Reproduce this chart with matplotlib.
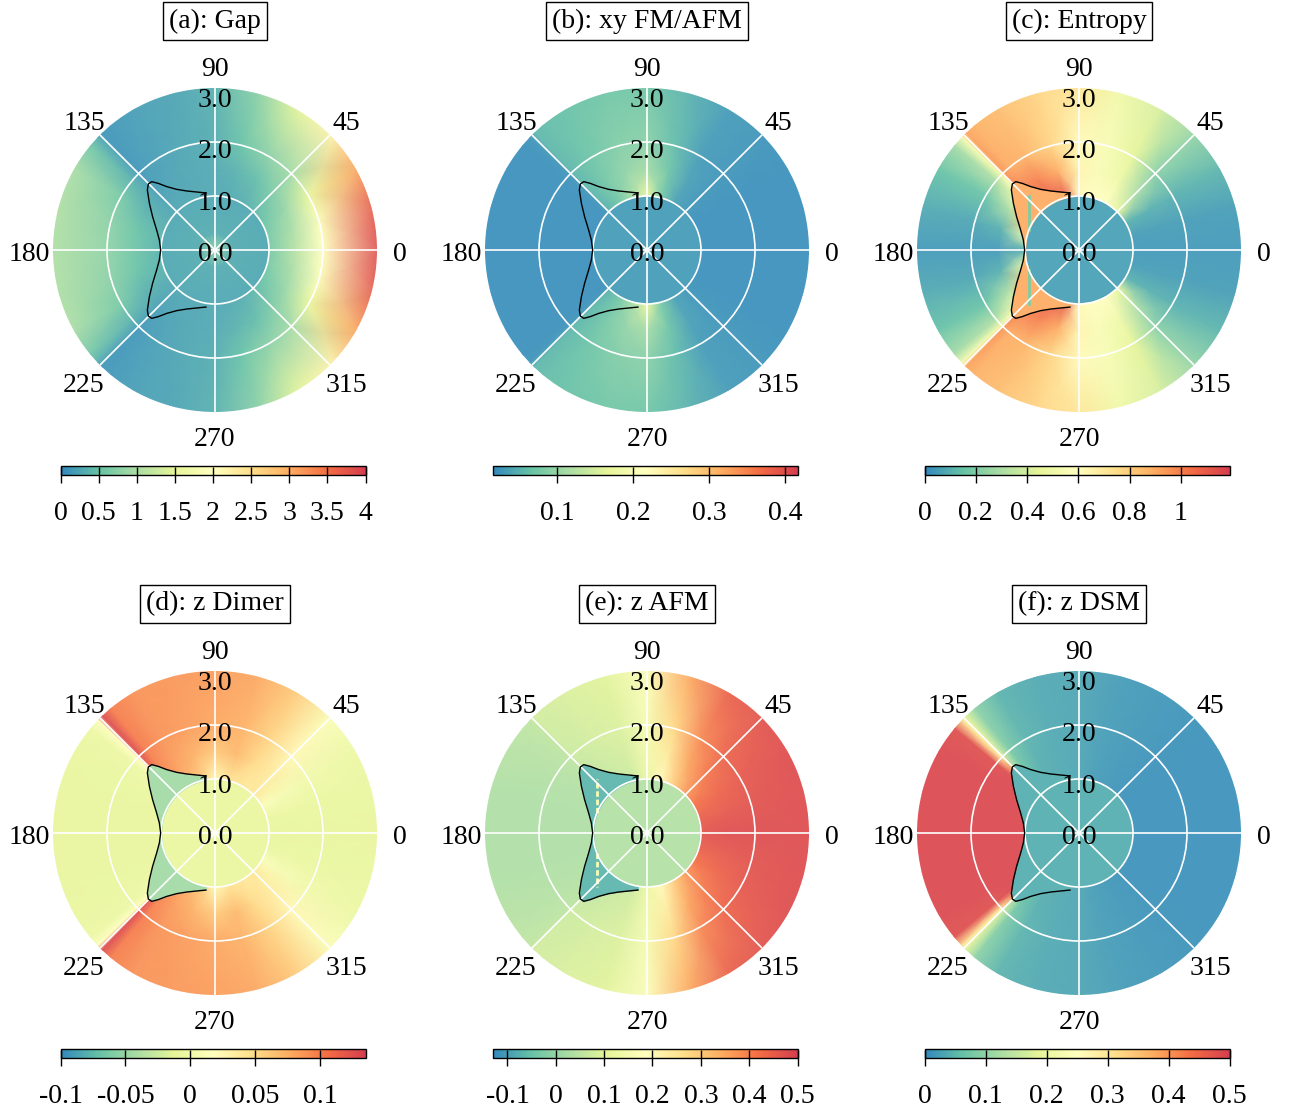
import numpy as np
import matplotlib

matplotlib.use("Agg")
import matplotlib.pyplot as plt  # noqa: E402
from matplotlib.cm import ScalarMappable  # noqa: E402
from matplotlib.colors import LinearSegmentedColormap, Normalize, to_rgb  # noqa: E402
from matplotlib.transforms import ScaledTranslation  # noqa: E402

plt.rcParams["font.family"] = ["Liberation Serif", "DejaVu Serif"]
plt.rcParams["axes.unicode_minus"] = False
FS = 20

# ---- data (upper half; panels are mirror-symmetric about 0/180) ----
THETA_UP = [0, 15, 30, 45, 60, 75, 90, 105, 120, 130, 134, 136, 140, 150, 165, 180]
R_INNER = [0.0, 0.3, 0.99]
R_OUTER = [1.01, 1.5, 2.0, 3.1]

# rows: r = 1.01, 1.5, 2.0, 3.1 ; columns: THETA_UP
gap_outer = [
    [0.6, 0.6, 0.5, 0.4, 0.3, 0.28, 0.25, 0.25, 0.25, 0.25, 0.25, 0.25, 0.25, 0.3, 0.35, 0.35],
    [1.1, 1.0, 0.85, 0.65, 0.45, 0.35, 0.28, 0.25, 0.22, 0.2, 0.18, 0.2, 0.25, 0.35, 0.5, 0.55],
    [2.0, 1.9, 1.55, 0.95, 0.75, 0.5, 0.3, 0.25, 0.2, 0.15, 0.12, 0.2, 0.35, 0.6, 0.75, 0.8],
    [3.9, 3.75, 3.1, 2.2, 1.5, 0.75, 0.35, 0.22, 0.18, 0.12, 0.1, 0.3, 0.6, 1.0, 1.05, 1.05],
]
gap_inner = [0.8, 0.3, 0.25]

xy_outer = [
    [0.02, 0.02, 0.02, 0.025, 0.035, 0.075, 0.17, 0.11, 0.07, 0.055, 0.05, 0.025, 0.02, 0.02, 0.02, 0.02],
    [0.02, 0.02, 0.02, 0.025, 0.035, 0.07, 0.11, 0.095, 0.075, 0.06, 0.055, 0.025, 0.02, 0.02, 0.02, 0.02],
    [0.02, 0.02, 0.02, 0.025, 0.03, 0.06, 0.09, 0.085, 0.07, 0.06, 0.055, 0.025, 0.02, 0.02, 0.02, 0.02],
    [0.02, 0.02, 0.02, 0.025, 0.03, 0.05, 0.07, 0.07, 0.065, 0.06, 0.055, 0.025, 0.02, 0.02, 0.02, 0.02],
]
xy_inner = [0.035, 0.03, 0.03]

ent_outer = [
    [0.04, 0.05, 0.1, 0.45, 0.6, 0.6, 0.62, 1.1, 1.1, 1.05, 1.05, 0.9, 0.9, 0.9, 0.5, 0.1],
    [0.04, 0.05, 0.1, 0.3, 0.5, 0.55, 0.65, 0.9, 1.0, 1.0, 1.0, 0.6, 0.5, 0.3, 0.1, 0.04],
    [0.04, 0.05, 0.1, 0.22, 0.45, 0.55, 0.62, 0.78, 0.88, 0.9, 0.95, 0.5, 0.3, 0.15, 0.07, 0.04],
    [0.04, 0.05, 0.12, 0.25, 0.4, 0.5, 0.72, 0.78, 0.85, 0.88, 0.92, 0.55, 0.28, 0.15, 0.08, 0.04],
]
ent_inner = [0.06, 0.06, 0.06]

dim_outer = [
    [-0.01, -0.008, 0.01, 0.04, 0.04, 0.045, 0.025, 0.06, 0.08, 0.09, 0.1, 0.02, 0.0, -0.008, -0.01, -0.01],
    [-0.01, -0.008, 0.005, 0.035, 0.05, 0.07, 0.06, 0.075, 0.085, 0.095, 0.11, 0.02, 0.0, -0.008, -0.01, -0.01],
    [-0.01, -0.008, 0.0, 0.025, 0.055, 0.075, 0.08, 0.085, 0.09, 0.1, 0.125, 0.015, -0.005, -0.008, -0.01, -0.01],
    [-0.01, -0.008, -0.005, 0.01, 0.06, 0.08, 0.085, 0.088, 0.09, 0.1, 0.13, 0.015, -0.005, -0.008, -0.01, -0.01],
]
dim_inner = [-0.008, -0.008, -0.008]

afm_outer = [
    [0.47, 0.45, 0.42, 0.37, 0.3, 0.2, 0.12, 0.07, 0.06, 0.05, 0.05, 0.04, 0.04, 0.035, 0.03, 0.03],
    [0.48, 0.46, 0.44, 0.41, 0.35, 0.24, 0.14, 0.08, 0.07, 0.06, 0.06, 0.045, 0.04, 0.035, 0.03, 0.03],
    [0.48, 0.47, 0.46, 0.44, 0.39, 0.28, 0.15, 0.09, 0.08, 0.07, 0.07, 0.05, 0.045, 0.035, 0.03, 0.03],
    [0.48, 0.48, 0.48, 0.47, 0.45, 0.35, 0.17, 0.1, 0.09, 0.08, 0.08, 0.055, 0.05, 0.04, 0.03, 0.03],
]
afm_inner = [0.035, 0.035, 0.035]

dsm_outer = [
    [0.008, 0.008, 0.008, 0.01, 0.015, 0.02, 0.03, 0.035, 0.04, 0.045, 0.05, 0.49, 0.49, 0.49, 0.49, 0.49],
    [0.008, 0.008, 0.008, 0.01, 0.015, 0.02, 0.03, 0.035, 0.04, 0.06, 0.1, 0.45, 0.49, 0.49, 0.49, 0.49],
    [0.008, 0.008, 0.008, 0.01, 0.015, 0.02, 0.03, 0.035, 0.045, 0.08, 0.15, 0.3, 0.48, 0.49, 0.49, 0.49],
    [0.008, 0.008, 0.008, 0.01, 0.015, 0.02, 0.03, 0.035, 0.045, 0.1, 0.18, 0.3, 0.48, 0.49, 0.49, 0.49],
]
dsm_inner = [0.04, 0.04, 0.04]

# black boundary curve (upper lobe, mirrored below)
CURVE_T = [99, 101.5, 107.5, 115.6, 122.3, 127.3, 130.4, 132.8, 135.3, 138.4, 144.6, 151.9, 161.1, 169.8, 180]
CURVE_R = [1.07, 1.083, 1.126, 1.212, 1.329, 1.476, 1.62, 1.725, 1.737, 1.675, 1.49, 1.31, 1.142, 1.047, 1.006]

# streak inside the lobes (cartesian x, y range)
STREAK_X = -0.93
STREAK_Y = [0.37, 1.0]

TITLES = ["(a): Gap", "(b): xy FM/AFM", "(c): Entropy", "(d): z Dimer", "(e): z AFM", "(f): z DSM"]
VRANGES = [(0, 4), (0.015, 0.416), (0, 1.19), (-0.1, 0.135), (-0.131, 0.5), (0, 0.5)]
CB_TICKS = [
    [0, 0.5, 1, 1.5, 2, 2.5, 3, 3.5, 4],
    [0.1, 0.2, 0.3, 0.4],
    [0, 0.2, 0.4, 0.6, 0.8, 1],
    [-0.1, -0.05, 0, 0.05, 0.1],
    [-0.1, 0, 0.1, 0.2, 0.3, 0.4, 0.5],
    [0, 0.1, 0.2, 0.3, 0.4, 0.5],
]
CB_LABELS = [
    ["0", "0.5", "1", "1.5", "2", "2.5", "3", "3.5", "4"],
    ["0.1", "0.2", "0.3", "0.4"],
    ["0", "0.2", "0.4", "0.6", "0.8", "1"],
    ["-0.1", "-0.05", "0", "0.05", "0.1"],
    ["-0.1", "0", "0.1", "0.2", "0.3", "0.4", "0.5"],
    ["0", "0.1", "0.2", "0.3", "0.4", "0.5"],
]
LOBE_FILL = [None, None, 0.9, -0.045, -0.07, 0.04]
STREAK_VAL = [None, None, 0.2, None, 0.16, None]
STREAK_STYLE = [None, None, "-", None, (0, (2, 1)), None]

THETA_TICKS = [0, 45, 90, 135, 180, 225, 270, 315]
R_LABELS = ["0.0", "1.0", "2.0", "3.0"]
R_LABEL_Y = [0.466, 0.623, 0.784, 0.941]  # baseline, axes fraction

OUTERS = [gap_outer, xy_outer, ent_outer, dim_outer, afm_outer, dsm_outer]
INNERS = [gap_inner, xy_inner, ent_inner, dim_inner, afm_inner, dsm_inner]

SPECTRAL9 = ["#3288bd", "#66c2a5", "#abdda4", "#e6f598", "#ffffbf",
             "#fee08b", "#fdae61", "#f46d43", "#d53e4f"]
CMAP = LinearSegmentedColormap.from_list("spectral9", SPECTRAL9)
# the field itself renders a touch lighter than the colorbar
CMAP_FIELD = LinearSegmentedColormap.from_list(
    "spectral9_light", [0.92 * np.array(to_rgb(c)) + 0.08 for c in SPECTRAL9]
)

W, H = 1297, 1115
CX = [215, 647, 1079]
CY = [250, 833]
RAD = 162


def frac_rect(left, top, w, h):
    return [left / W, 1 - (top + h) / H, w / W, h / H]


def mirror(rows):
    rows = np.asarray(rows, dtype=float)
    return np.hstack([rows, rows[:, -2:0:-1], rows[:, :1]])


theta_full = THETA_UP + [360 - t for t in THETA_UP[-2:0:-1]] + [360]
curve_t = np.deg2rad(CURVE_T + [360 - t for t in CURVE_T[-2::-1]])
curve_r = np.array(CURVE_R + CURVE_R[-2::-1])

fig = plt.figure(figsize=(W / 100, H / 100), dpi=100)
label_shift = ScaledTranslation(0, -4.5 / 100, fig.dpi_scale_trans)

for i in range(6):
    cx, cy = CX[i % 3], CY[i // 3]
    ax = fig.add_axes(frac_rect(cx - RAD, cy - RAD, 2 * RAD, 2 * RAD), projection="polar")
    norm = Normalize(*VRANGES[i])

    outer = mirror(OUTERS[i])
    inner = np.tile(np.asarray(INNERS[i], dtype=float)[:, None], (1, outer.shape[1]))
    Z = np.vstack([inner, outer])
    ax.pcolormesh(np.deg2rad(theta_full), R_INNER + R_OUTER, Z,
                  shading="gouraud", cmap=CMAP_FIELD, norm=norm)

    if LOBE_FILL[i] is not None:
        ax.fill_between(curve_t, 0.99, curve_r, color=CMAP_FIELD(norm(LOBE_FILL[i])), lw=0)
    if STREAK_VAL[i] is not None:
        for sgn in (1, -1):
            ys = sgn * np.array(STREAK_Y)
            ax.plot(np.arctan2(ys, STREAK_X), np.hypot(ys, STREAK_X),
                    color=CMAP(norm(STREAK_VAL[i])), lw=2, ls=STREAK_STYLE[i], zorder=1.3)

    ax.plot(curve_t, curve_r, color="black", lw=1.0, zorder=2)

    ax.set_xticks(np.deg2rad(THETA_TICKS))
    ax.set_xticklabels([])
    ax.set_yticks([1, 2])
    ax.set_yticklabels([])
    ax.grid(True, color="white", lw=1.2)
    ax.spines["polar"].set_visible(False)
    ax.set_ylim(0, 3)

    for t in THETA_TICKS:
        ax.text(np.deg2rad(t), 3.43, str(t), ha="center", va="center", fontsize=FS,
                transform=ax.transData + label_shift)

    for lab, yy in zip(R_LABELS, R_LABEL_Y):
        ax.text(0.5, yy, lab, transform=ax.transAxes, ha="center", va="baseline", fontsize=FS)

    ax.text(0.5, 0.5 + 229 / (2 * RAD), TITLES[i], transform=ax.transAxes,
            ha="center", va="center", fontsize=FS,
            bbox=dict(boxstyle="square,pad=0.22", fc="white", ec="black", lw=1))

    cax = fig.add_axes(frac_rect(cx - 154.5, cy + 216, 305, 8.5))
    cb = fig.colorbar(ScalarMappable(norm=norm, cmap=CMAP), cax=cax, orientation="horizontal")
    cb.set_ticks(CB_TICKS[i], labels=CB_LABELS[i])
    cax.tick_params(direction="inout", length=11, width=1, pad=13.5, labelsize=FS)
    cb.outline.set_linewidth(1)

fig.savefig("out.png", dpi=100)
